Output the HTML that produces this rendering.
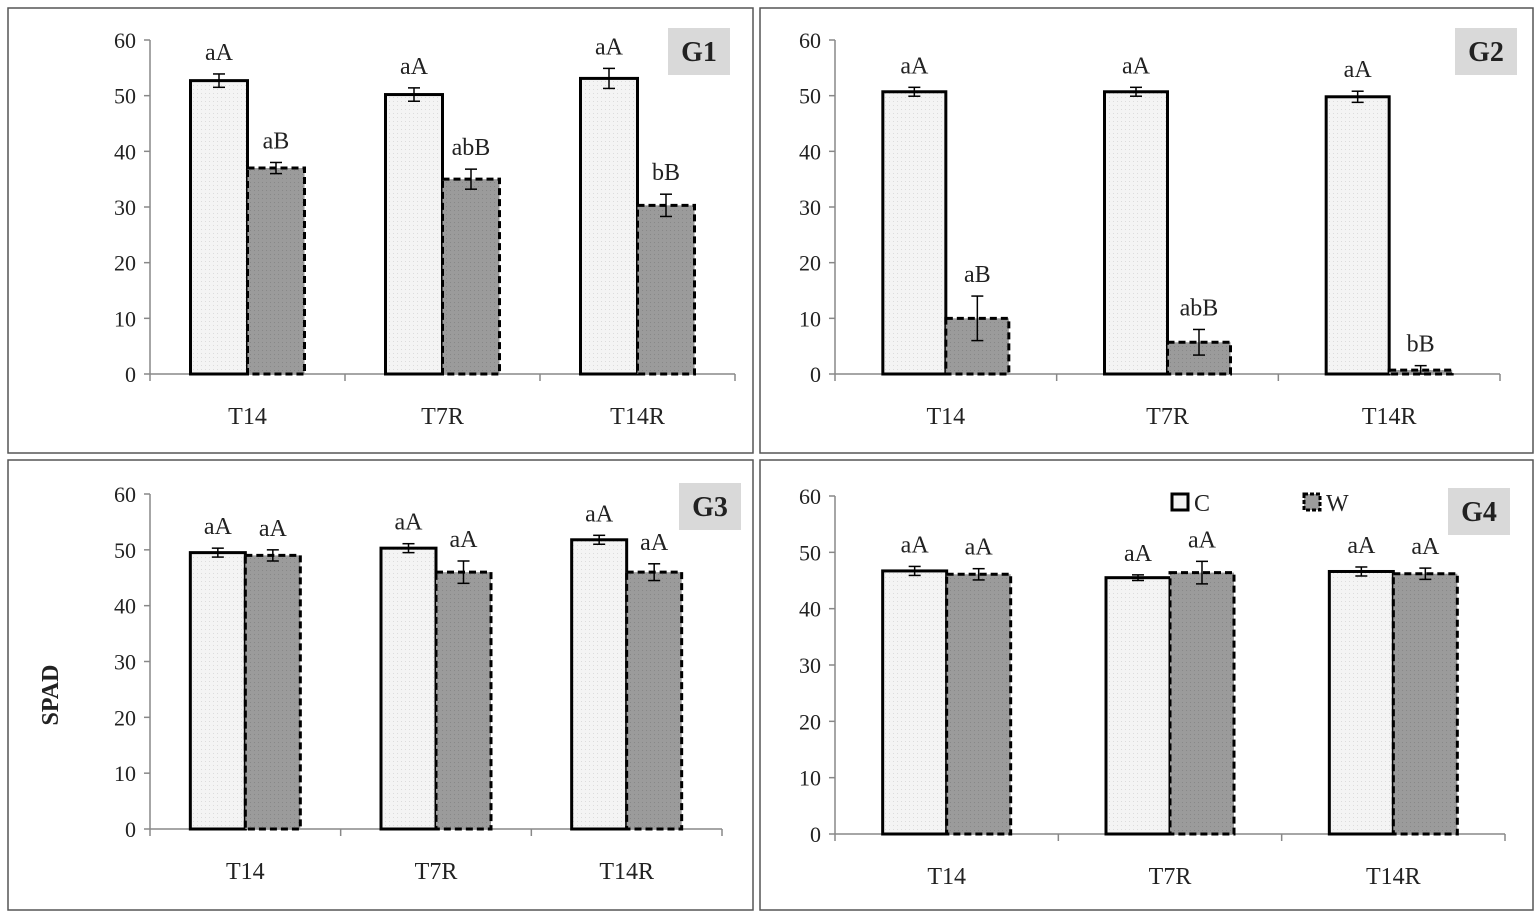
<!DOCTYPE html>
<html><head><meta charset="utf-8"><style>
body{margin:0;background:#fff;}
svg text{font-family:"Liberation Serif",serif;}
</style></head><body>
<svg id="chart" width="1540" height="916" viewBox="0 0 1540 916" xmlns="http://www.w3.org/2000/svg">
<defs>
<pattern id="dots" width="4" height="4" patternUnits="userSpaceOnUse"><rect width="4" height="4" fill="#f4f4f4"/><rect x="1" y="1" width="1" height="1" fill="#dcdcdc"/></pattern>
<pattern id="dotsW" width="4" height="4" patternUnits="userSpaceOnUse"><rect width="4" height="4" fill="#9b9b9b"/><rect x="2" y="2" width="1" height="1" fill="#888"/></pattern>
</defs>
</svg>
<script>
const categories = ["T14","T7R","T14R"];
const ticks = [0,10,20,30,40,50,60];
const g1C = [52.7,50.2,53.1], g1W = [37.0,35.0,30.3];
const g1CErr = [1.2,1.2,1.8], g1WErr = [1.0,1.8,2.0];
const g1CLab = ["aA","aA","aA"], g1WLab = ["aB","abB","bB"];
const g2C = [50.7,50.7,49.8], g2W = [10.0,5.7,0.7];
const g2CErr = [0.8,0.8,1.0], g2WErr = [4.0,2.3,0.8];
const g2CLab = ["aA","aA","aA"], g2WLab = ["aB","abB","bB"];
const g3C = [49.5,50.3,51.8], g3W = [49.0,46.0,46.0];
const g3CErr = [0.8,0.8,0.8], g3WErr = [1.0,2.0,1.5];
const g3CLab = ["aA","aA","aA"], g3WLab = ["aA","aA","aA"];
const g4C = [46.7,45.5,46.6], g4W = [46.1,46.4,46.2];
const g4CErr = [0.8,0.5,0.8], g4WErr = [1.0,2.0,1.0];
const g4CLab = ["aA","aA","aA"], g4WLab = ["aA","aA","aA"];

const svg = document.getElementById('chart');
const NS = "http://www.w3.org/2000/svg";
function mk(tag, attrs, parent){const e=document.createElementNS(NS,tag);for(const k in attrs)e.setAttribute(k,attrs[k]);(parent||svg).appendChild(e);return e;}

function panel(p){
  const g = mk('g',{});
  
  
  const border = mk('rect',{x:p.bx,y:p.by,width:p.bw,height:p.bh,fill:'none',stroke:'#555','stroke-width':1.5},g);
  
  
  const yS = v => p.y0 - v*(p.y0-p.y60)/60;
  const catW = (p.xEnd-p.x0)/categories.length;
  const xC = i => p.x0 + catW*(i+0.5);
  // y axis
  const ax = mk('line',{x1:p.x0,y1:p.y60,x2:p.x0,y2:p.y0,stroke:'#888','stroke-width':1.5},g);
  
  
  ticks.forEach(t=>{
    const y=yS(t);
    mk('line',{x1:p.x0-6,y1:y,x2:p.x0,y2:y,stroke:'#888','stroke-width':1.5},g);
    const tx=mk('text',{x:p.x0-14,y:y+8,'text-anchor':'end','font-size':22,fill:'#222'},g);
    tx.textContent=t;
    
    
  });
  const xa = mk('line',{x1:p.x0,y1:p.y0,x2:p.xEnd,y2:p.y0,stroke:'#888','stroke-width':1.5},g);
  
  
  for(let i=0;i<=categories.length;i++){
    const x=p.x0+catW*i;
    mk('line',{x1:x,y1:p.y0,x2:x,y2:p.y0+7,stroke:'#888','stroke-width':1.5},g);
  }
  categories.forEach((c,i)=>{
    const series=[[p.C,p.CErr,p.CLab,'url(#dots)',null,-1],[p.W,p.WErr,p.WLab,'url(#dotsW)','7,4',0]];
    series.forEach((s,j)=>{
      const v=s[0][i], e=s[1][i];
      const x=xC(i)+s[5]*p.bar;
      const r=mk('rect',{x:x,y:yS(v),width:p.bar,height:yS(0)-yS(v),fill:s[3],stroke:'#000','stroke-width':3},g);
      if(s[4]) r.setAttribute('stroke-dasharray',s[4]);
      
      
      const cx=x+p.bar/2, yt=yS(v+e), yb=yS(Math.max(0,v-e));
      mk('line',{x1:cx,y1:yt,x2:cx,y2:yb,stroke:'#000','stroke-width':1.5},g);
      mk('line',{x1:cx-6,y1:yt,x2:cx+6,y2:yt,stroke:'#000','stroke-width':1.5},g);
      mk('line',{x1:cx-6,y1:yb,x2:cx+6,y2:yb,stroke:'#000','stroke-width':1.5},g);
      const lt=mk('text',{x:cx,y:yt-14,'text-anchor':'middle','font-size':24,fill:'#222'},g);
      lt.textContent=s[2][i];
      
      
    });
    const ct=mk('text',{x:xC(i),y:p.y0+50,'text-anchor':'middle','font-size':24,fill:'#222'},g);
    ct.textContent=c;
    
    
  });
  const lb=mk('rect',{x:p.lx,y:p.ly,width:62,height:47,fill:'#d9d9d9'},g);
  
  
  const lt=mk('text',{x:p.lx+31,y:p.ly+33,'text-anchor':'middle','font-size':28,'font-weight':'bold',fill:'#222'},g);
  lt.textContent=p.name;
  
  
}
panel({name:'G1',bx:8,by:8,bw:745,bh:445,x0:150,xEnd:735,y0:374,y60:40,bar:57,lx:668,ly:28,C:g1C,W:g1W,CErr:g1CErr,WErr:g1WErr,CLab:g1CLab,WLab:g1WLab});
panel({name:'G2',bx:760,by:8,bw:773,bh:445,x0:835,xEnd:1500,y0:374,y60:40,bar:63,lx:1455,ly:28,C:g2C,W:g2W,CErr:g2CErr,WErr:g2WErr,CLab:g2CLab,WLab:g2WLab});
panel({name:'G3',bx:8,by:460,bw:745,bh:450,x0:150,xEnd:722,y0:829,y60:494,bar:55,lx:679,ly:483,C:g3C,W:g3W,CErr:g3CErr,WErr:g3WErr,CLab:g3CLab,WLab:g3WLab});
panel({name:'G4',bx:760,by:460,bw:773,bh:450,x0:835,xEnd:1505,y0:834,y60:496,bar:64,lx:1448,ly:488,C:g4C,W:g4W,CErr:g4CErr,WErr:g4WErr,CLab:g4CLab,WLab:g4WLab});

const sp=mk('text',{x:58,y:695,'text-anchor':'middle','font-size':24,'font-weight':'bold',fill:'#222',transform:'rotate(-90 58 695)'});
sp.textContent='SPAD';


const lc=mk('rect',{x:1172,y:494,width:16,height:16,fill:'#f4f4f4',stroke:'#000','stroke-width':3});


const lct=mk('text',{x:1194,y:511,'font-size':24,fill:'#222','font-family':'Liberation Sans'});
lct.textContent='C';


const lw=mk('rect',{x:1304,y:494,width:16,height:16,fill:'#9b9b9b',stroke:'#000','stroke-width':3,'stroke-dasharray':'4,2'});


const lwt=mk('text',{x:1326,y:511,'font-size':24,fill:'#222','font-family':'Liberation Sans'});
lwt.textContent='W';


</script>
</body></html>
